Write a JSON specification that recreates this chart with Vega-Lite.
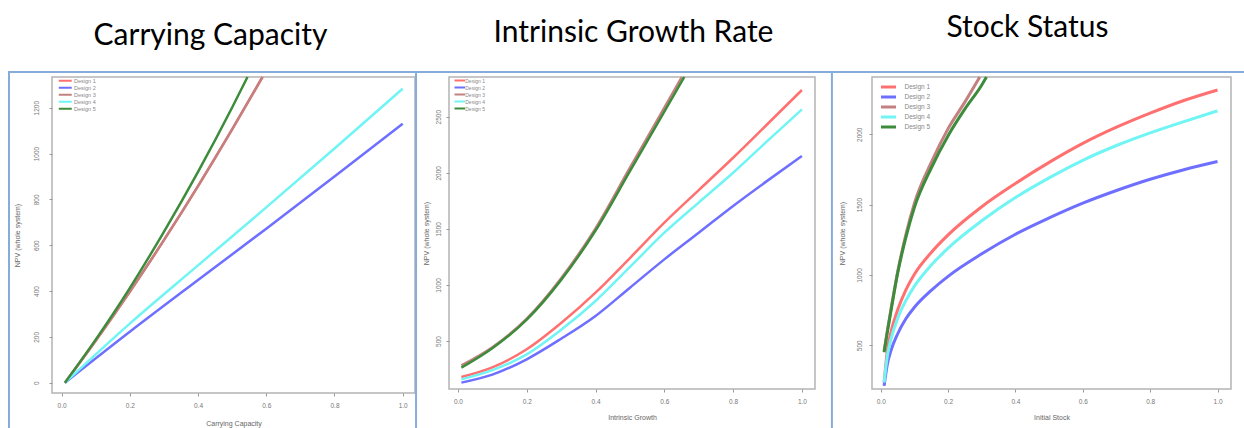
{
  "$schema": "https://vega.github.io/schema/vega-lite/v6.json",
  "background": "white",
  "padding": {"left": 6, "top": 11, "right": 0, "bottom": 0},
  "datasets": {
    "cc": [
      {"design": "Design 1", "x": 0.01, "npv": 0}, {"design": "Design 1", "x": 0.1, "npv": 183}, {"design": "Design 1", "x": 0.2, "npv": 397}, {"design": "Design 1", "x": 0.3, "npv": 622}, {"design": "Design 1", "x": 0.4, "npv": 858}, {"design": "Design 1", "x": 0.5, "npv": 1105}, {"design": "Design 1", "x": 0.589, "npv": 1334},
      {"design": "Design 2", "x": 0.01, "npv": 0}, {"design": "Design 2", "x": 0.2, "npv": 222}, {"design": "Design 2", "x": 0.4, "npv": 448}, {"design": "Design 2", "x": 0.6, "npv": 672}, {"design": "Design 2", "x": 0.8, "npv": 900}, {"design": "Design 2", "x": 1.0, "npv": 1130},
      {"design": "Design 3", "x": 0.01, "npv": 0}, {"design": "Design 3", "x": 0.1, "npv": 183}, {"design": "Design 3", "x": 0.2, "npv": 397}, {"design": "Design 3", "x": 0.3, "npv": 622}, {"design": "Design 3", "x": 0.4, "npv": 858}, {"design": "Design 3", "x": 0.5, "npv": 1105}, {"design": "Design 3", "x": 0.589, "npv": 1334},
      {"design": "Design 4", "x": 0.01, "npv": 0}, {"design": "Design 4", "x": 0.2, "npv": 258}, {"design": "Design 4", "x": 0.4, "npv": 512}, {"design": "Design 4", "x": 0.6, "npv": 765}, {"design": "Design 4", "x": 0.8, "npv": 1022}, {"design": "Design 4", "x": 1.0, "npv": 1283},
      {"design": "Design 5", "x": 0.01, "npv": 0}, {"design": "Design 5", "x": 0.1, "npv": 188}, {"design": "Design 5", "x": 0.2, "npv": 413}, {"design": "Design 5", "x": 0.3, "npv": 658}, {"design": "Design 5", "x": 0.4, "npv": 920}, {"design": "Design 5", "x": 0.5, "npv": 1201}, {"design": "Design 5", "x": 0.545, "npv": 1334}
    ],
    "ig": [
      {"design": "Design 1", "x": 0.01, "npv": 179}, {"design": "Design 1", "x": 0.1, "npv": 265}, {"design": "Design 1", "x": 0.2, "npv": 426}, {"design": "Design 1", "x": 0.3, "npv": 660}, {"design": "Design 1", "x": 0.4, "npv": 931}, {"design": "Design 1", "x": 0.5, "npv": 1240}, {"design": "Design 1", "x": 0.6, "npv": 1555}, {"design": "Design 1", "x": 0.7, "npv": 1845}, {"design": "Design 1", "x": 0.8, "npv": 2134}, {"design": "Design 1", "x": 0.9, "npv": 2435}, {"design": "Design 1", "x": 1.0, "npv": 2738},
      {"design": "Design 2", "x": 0.01, "npv": 129}, {"design": "Design 2", "x": 0.1, "npv": 200}, {"design": "Design 2", "x": 0.2, "npv": 337}, {"design": "Design 2", "x": 0.3, "npv": 520}, {"design": "Design 2", "x": 0.4, "npv": 723}, {"design": "Design 2", "x": 0.5, "npv": 975}, {"design": "Design 2", "x": 0.6, "npv": 1228}, {"design": "Design 2", "x": 0.7, "npv": 1465}, {"design": "Design 2", "x": 0.8, "npv": 1704}, {"design": "Design 2", "x": 0.9, "npv": 1930}, {"design": "Design 2", "x": 1.0, "npv": 2149},
      {"design": "Design 3", "x": 0.01, "npv": 283}, {"design": "Design 3", "x": 0.1, "npv": 445}, {"design": "Design 3", "x": 0.2, "npv": 700}, {"design": "Design 3", "x": 0.3, "npv": 1060}, {"design": "Design 3", "x": 0.4, "npv": 1505}, {"design": "Design 3", "x": 0.5, "npv": 2045}, {"design": "Design 3", "x": 0.6, "npv": 2580}, {"design": "Design 3", "x": 0.651, "npv": 2854},
      {"design": "Design 4", "x": 0.01, "npv": 158}, {"design": "Design 4", "x": 0.1, "npv": 240}, {"design": "Design 4", "x": 0.2, "npv": 381}, {"design": "Design 4", "x": 0.3, "npv": 600}, {"design": "Design 4", "x": 0.4, "npv": 857}, {"design": "Design 4", "x": 0.5, "npv": 1160}, {"design": "Design 4", "x": 0.6, "npv": 1466}, {"design": "Design 4", "x": 0.7, "npv": 1735}, {"design": "Design 4", "x": 0.8, "npv": 2000}, {"design": "Design 4", "x": 0.9, "npv": 2285}, {"design": "Design 4", "x": 1.0, "npv": 2565},
      {"design": "Design 5", "x": 0.01, "npv": 262}, {"design": "Design 5", "x": 0.1, "npv": 435}, {"design": "Design 5", "x": 0.2, "npv": 690}, {"design": "Design 5", "x": 0.3, "npv": 1045}, {"design": "Design 5", "x": 0.4, "npv": 1485}, {"design": "Design 5", "x": 0.5, "npv": 2015}, {"design": "Design 5", "x": 0.6, "npv": 2545}, {"design": "Design 5", "x": 0.658, "npv": 2854}
    ],
    "ss": [
      {"design": "Design 1", "x": 0.01, "npv": 235}, {"design": "Design 1", "x": 0.02, "npv": 470}, {"design": "Design 1", "x": 0.03, "npv": 590}, {"design": "Design 1", "x": 0.05, "npv": 750}, {"design": "Design 1", "x": 0.075, "npv": 895}, {"design": "Design 1", "x": 0.1, "npv": 1005}, {"design": "Design 1", "x": 0.15, "npv": 1160}, {"design": "Design 1", "x": 0.2, "npv": 1285}, {"design": "Design 1", "x": 0.3, "npv": 1485}, {"design": "Design 1", "x": 0.4, "npv": 1650}, {"design": "Design 1", "x": 0.5, "npv": 1800}, {"design": "Design 1", "x": 0.6, "npv": 1935}, {"design": "Design 1", "x": 0.7, "npv": 2050}, {"design": "Design 1", "x": 0.8, "npv": 2150}, {"design": "Design 1", "x": 0.9, "npv": 2240}, {"design": "Design 1", "x": 1.0, "npv": 2315},
      {"design": "Design 2", "x": 0.01, "npv": 211}, {"design": "Design 2", "x": 0.02, "npv": 370}, {"design": "Design 2", "x": 0.03, "npv": 460}, {"design": "Design 2", "x": 0.05, "npv": 580}, {"design": "Design 2", "x": 0.075, "npv": 690}, {"design": "Design 2", "x": 0.1, "npv": 770}, {"design": "Design 2", "x": 0.15, "npv": 890}, {"design": "Design 2", "x": 0.2, "npv": 990}, {"design": "Design 2", "x": 0.3, "npv": 1150}, {"design": "Design 2", "x": 0.4, "npv": 1289}, {"design": "Design 2", "x": 0.5, "npv": 1405}, {"design": "Design 2", "x": 0.6, "npv": 1510}, {"design": "Design 2", "x": 0.7, "npv": 1600}, {"design": "Design 2", "x": 0.8, "npv": 1680}, {"design": "Design 2", "x": 0.9, "npv": 1748}, {"design": "Design 2", "x": 1.0, "npv": 1806},
      {"design": "Design 3", "x": 0.01, "npv": 460}, {"design": "Design 3", "x": 0.02, "npv": 610}, {"design": "Design 3", "x": 0.03, "npv": 750}, {"design": "Design 3", "x": 0.05, "npv": 1020}, {"design": "Design 3", "x": 0.075, "npv": 1290}, {"design": "Design 3", "x": 0.1, "npv": 1510}, {"design": "Design 3", "x": 0.15, "npv": 1800}, {"design": "Design 3", "x": 0.2, "npv": 2040}, {"design": "Design 3", "x": 0.25, "npv": 2230}, {"design": "Design 3", "x": 0.294, "npv": 2407},
      {"design": "Design 4", "x": 0.01, "npv": 235}, {"design": "Design 4", "x": 0.02, "npv": 430}, {"design": "Design 4", "x": 0.03, "npv": 540}, {"design": "Design 4", "x": 0.05, "npv": 690}, {"design": "Design 4", "x": 0.075, "npv": 820}, {"design": "Design 4", "x": 0.1, "npv": 920}, {"design": "Design 4", "x": 0.15, "npv": 1070}, {"design": "Design 4", "x": 0.2, "npv": 1190}, {"design": "Design 4", "x": 0.3, "npv": 1385}, {"design": "Design 4", "x": 0.4, "npv": 1550}, {"design": "Design 4", "x": 0.5, "npv": 1690}, {"design": "Design 4", "x": 0.6, "npv": 1815}, {"design": "Design 4", "x": 0.7, "npv": 1920}, {"design": "Design 4", "x": 0.8, "npv": 2010}, {"design": "Design 4", "x": 0.9, "npv": 2090}, {"design": "Design 4", "x": 1.0, "npv": 2166},
      {"design": "Design 5", "x": 0.01, "npv": 450}, {"design": "Design 5", "x": 0.02, "npv": 600}, {"design": "Design 5", "x": 0.03, "npv": 740}, {"design": "Design 5", "x": 0.05, "npv": 1010}, {"design": "Design 5", "x": 0.075, "npv": 1270}, {"design": "Design 5", "x": 0.1, "npv": 1480}, {"design": "Design 5", "x": 0.15, "npv": 1760}, {"design": "Design 5", "x": 0.2, "npv": 1990}, {"design": "Design 5", "x": 0.25, "npv": 2180}, {"design": "Design 5", "x": 0.3, "npv": 2350}, {"design": "Design 5", "x": 0.314, "npv": 2407}
    ]
  },
  "config": {
    "view": {"stroke": "#b4b4b4", "strokeWidth": 1.5},
    "font": "Liberation Sans",
    "axis": {"grid": false, "domain": false, "tickColor": "#999999", "tickSize": 3, "tickWidth": 1, "labelFontSize": 6.5, "labelColor": "#777777", "titleFontSize": 7, "titleColor": "#666666", "titleFontWeight": "normal"},
    "axisY": {"labelAngle": 270, "labelAlign": "center", "labelBaseline": "bottom", "format": "d"},
    "title": {"font": "Lato", "fontSize": 30, "fontWeight": "normal", "color": "#000000", "frame": "group", "anchor": "middle", "baseline": "alphabetic"},
    "line": {"interpolate": "monotone", "clip": true},
    "rule": {"color": "#86acdc", "strokeWidth": 2, "strokeCap": "square"},
    "legend": {"title": null, "orient": "top-left", "labelColor": "#888888", "padding": 0}
  },
  "spacing": -5,
  "bounds": "full",
  "resolve": {"scale": {"color": "independent"}},
  "hconcat": [
    {
      "width": 363, "height": 316,
      "title": {"text": "Carrying Capacity", "dx": -23, "offset": 20},
      "layer": [
        {
          "data": {"name": "cc"},
          "mark": {"type": "line", "strokeWidth": 2.5},
          "encoding": {
            "x": {"field": "x", "type": "quantitative", "scale": {"domain": [-0.028, 1.036], "nice": false, "zero": false}, "axis": {"values": [0, 0.2, 0.4, 0.6, 0.8, 1], "format": ".1f", "title": "Carrying Capacity", "labelPadding": 6.5, "titlePadding": 10}},
            "y": {"field": "npv", "type": "quantitative", "scale": {"domain": [-45, 1334], "nice": false, "zero": false}, "axis": {"values": [0, 200, 400, 600, 800, 1000, 1200], "title": "NPV (whole system)", "labelPadding": 9.5, "titlePadding": 13}},
            "color": {"field": "design", "type": "nominal", "scale": {"domain": ["Design 1", "Design 2", "Design 3", "Design 4", "Design 5"], "range": ["#ff7070", "#6f6fff", "#c48080", "#70f4f4", "#3c8c3c"]}, "legend": {"offset": 1, "symbolType": "M-6.5,0L6.5,0", "symbolSize": 4, "symbolStrokeWidth": 2, "symbolOffset": 9.5, "labelOffset": 6, "labelFontSize": 5.5, "rowPadding": -11}}
          }
        },
        {
          "data": {"values": [{}]},
          "mark": "rule",
          "encoding": {"x": {"datum": -0.154}, "y": {"datum": 1356}, "y2": {"datum": -400}}
        },
        {
          "data": {"values": [{}]},
          "mark": "rule",
          "encoding": {"x": {"datum": -0.154}, "x2": {"datum": 1.0359}, "y": {"datum": 1356}}
        }
      ]
    },
    {
      "width": 366, "height": 312,
      "title": {"text": "Intrinsic Growth Rate", "dx": 1.5, "offset": 23},
      "layer": [
        {
          "data": {"name": "ig"},
          "mark": {"type": "line", "strokeWidth": 2.5},
          "encoding": {
            "x": {"field": "x", "type": "quantitative", "scale": {"domain": [-0.026, 1.038], "nice": false, "zero": false}, "axis": {"values": [0, 0.2, 0.4, 0.6, 0.8, 1], "format": ".1f", "title": "Intrinsic Growth", "labelPadding": 6, "titlePadding": 9}},
            "y": {"field": "npv", "type": "quantitative", "scale": {"domain": [72, 2854], "nice": false, "zero": false}, "axis": {"values": [500, 1000, 1500, 2000, 2500], "title": "NPV (whole system)", "labelPadding": 4.5, "titlePadding": 6.5}},
            "color": {"field": "design", "type": "nominal", "scale": {"domain": ["Design 1", "Design 2", "Design 3", "Design 4", "Design 5"], "range": ["#ff7070", "#6f6fff", "#c48080", "#70f4f4", "#3c8c3c"]}, "legend": {"offset": 1, "symbolType": "M-5.25,0L5.25,0", "symbolSize": 4, "symbolStrokeWidth": 2, "symbolOffset": 7.25, "labelOffset": 3, "labelFontSize": 5, "rowPadding": -11}}
          }
        },
        {
          "data": {"values": [{}]},
          "mark": "rule",
          "encoding": {"x": {"datum": -0.1218}, "y": {"datum": 2898.6}, "y2": {"datum": -500}}
        },
        {
          "data": {"values": [{}]},
          "mark": "rule",
          "encoding": {"x": {"datum": -0.1218}, "x2": {"datum": 1.0846}, "y": {"datum": 2898.6}}
        }
      ]
    },
    {
      "width": 359, "height": 312,
      "title": {"text": "Stock Status", "dx": -24, "offset": 28},
      "layer": [
        {
          "data": {"name": "ss"},
          "mark": {"type": "line", "strokeWidth": 3},
          "encoding": {
            "x": {"field": "x", "type": "quantitative", "scale": {"domain": [-0.026, 1.04], "nice": false, "zero": false}, "axis": {"values": [0, 0.2, 0.4, 0.6, 0.8, 1], "format": ".1f", "title": "Initial Stock", "labelPadding": 6, "titlePadding": 9}},
            "y": {"field": "npv", "type": "quantitative", "scale": {"domain": [189, 2407], "nice": false, "zero": false}, "axis": {"values": [500, 1000, 1500, 2000], "title": "NPV (whole system)", "labelPadding": 6.5, "titlePadding": 11.5}},
            "color": {"field": "design", "type": "nominal", "scale": {"domain": ["Design 1", "Design 2", "Design 3", "Design 4", "Design 5"], "range": ["#ff7070", "#6f6fff", "#c48080", "#70f4f4", "#3c8c3c"]}, "legend": {"offset": 6, "symbolType": "M-3,0L3,0", "symbolSize": 25, "symbolStrokeWidth": 3, "symbolOffset": 6.5, "labelOffset": 12, "labelFontSize": 6.5, "rowPadding": -2.1}}
          }
        },
        {
          "data": {"values": [{}]},
          "mark": "rule",
          "encoding": {"x": {"datum": -0.145}, "y": {"datum": 2442.5}, "y2": {"datum": -200}}
        },
        {
          "data": {"values": [{}]},
          "mark": "rule",
          "encoding": {"x": {"datum": -0.145}, "x2": {"datum": 1.094}, "y": {"datum": 2442.5}}
        }
      ]
    }
  ]
}
